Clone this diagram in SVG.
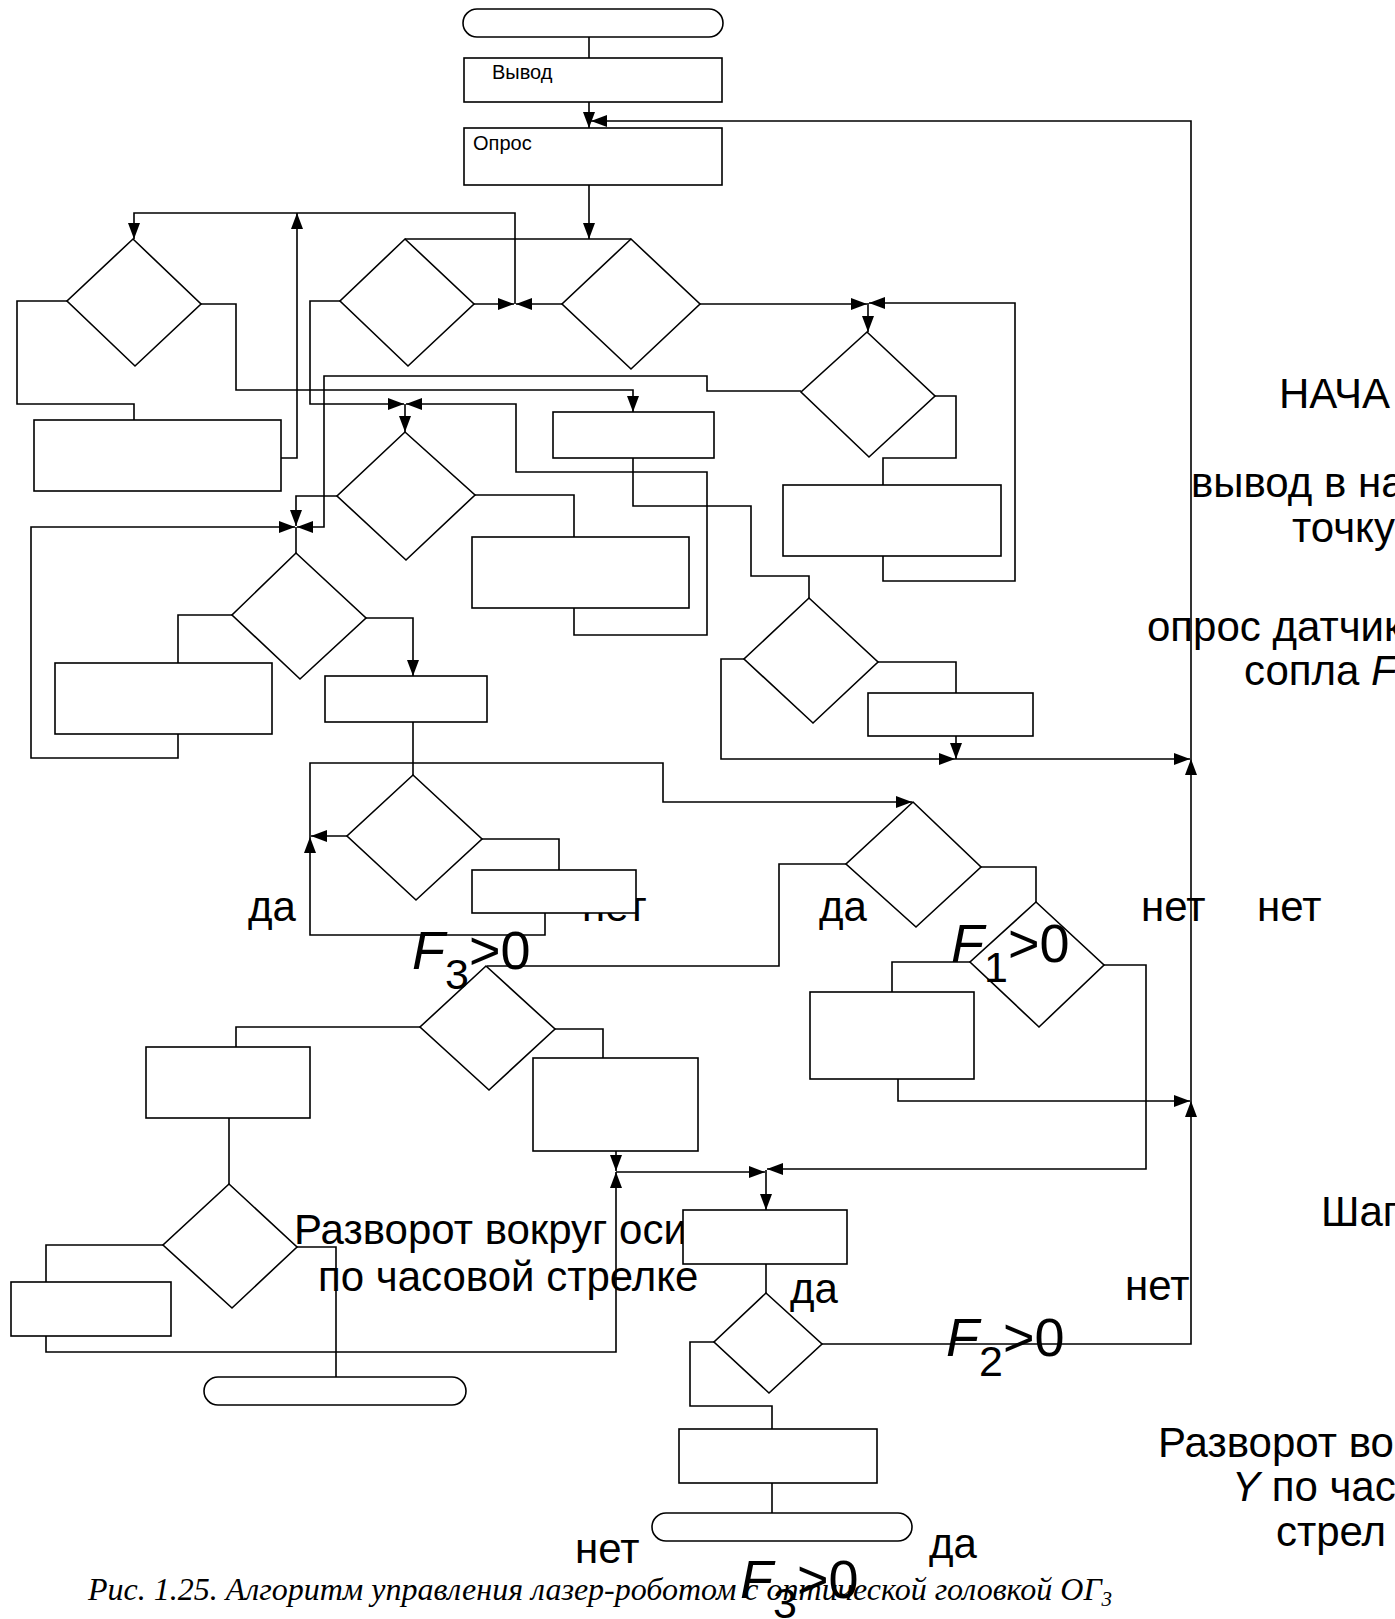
<svg xmlns="http://www.w3.org/2000/svg" width="1395" height="1619" viewBox="0 0 1395 1619">
<style>
.n{fill:#fff;stroke:#000;stroke-width:1.6}
.c{fill:none;stroke:#000;stroke-width:1.6}
.a{marker-end:url(#ah)}
.s{font-family:"Liberation Sans",Arial,sans-serif;font-size:20px;fill:#000}
.l{font-family:"Liberation Sans",Arial,sans-serif;font-size:42px;fill:#000}
.f{font-family:"Liberation Sans",Arial,sans-serif;font-size:54px;fill:#000}
.cap{font-family:"Liberation Serif","Times New Roman",serif;font-style:italic;font-size:32px;fill:#000}
</style>
<defs>
<marker id="ah" markerWidth="16" markerHeight="12" refX="16" refY="6" orient="auto" markerUnits="userSpaceOnUse">
<path d="M0,0 L16,6 L0,12 z" fill="#000"/>
</marker>
</defs>
<rect width="1395" height="1619" fill="#fff"/>

<g id="labels">
<text class="l" x="248" y="921">да</text>
<text class="l" x="582" y="921">нет</text>
<text class="l" x="819" y="921">да</text>
<text class="l" x="1141" y="921">нет</text>
<text class="l" x="1257" y="921">нет</text>
<text class="l" x="790" y="1303">да</text>
<text class="l" x="1125" y="1300">нет</text>
<text class="l" x="575" y="1563">нет</text>
<text class="l" x="929" y="1558">да</text>
<text class="l" x="294" y="1244" font-size="41">Разворот вокруг оси</text>
<text class="l" x="318" y="1291">по часовой стрелке</text>
<text class="l" x="1279" y="408">НАЧА</text>
<text class="l" x="1191" y="497">вывод в на</text>
<text class="l" x="1292" y="542">точку</text>
<text class="l" x="1147" y="641">опрос датчик</text>
<text class="l" x="1244" y="685">сопла <tspan font-style="italic">F</tspan></text>
<text class="l" x="1321" y="1226">Шаг</text>
<text class="l" x="1158" y="1457">Разворот во</text>
<text class="l" x="1232" y="1501"><tspan font-style="italic">Y</tspan> по час</text>
<text class="l" x="1276" y="1546">стрел</text>
<text class="cap" x="88" y="1600">Рис. 1.25. Алгоритм управления лазер-роботом с оптической головкой ОГ<tspan font-size="21" dy="6">3</tspan></text>
</g>

<g id="connectors">
<path class="c" d="M589,37 V58"/>
<path class="c a" d="M589,102 V128"/>
<path class="c a" d="M822,1344 H1191 V1101"/>
<path class="c a" d="M1191,1101 V759"/>
<path class="c a" d="M1191,759 V121 H591"/>
<path class="c a" d="M589,185 V239"/>
<path class="c" d="M405,239 H631"/>
<path class="c a" d="M474,304 H514"/>
<path class="c a" d="M562,304 H516"/>
<path class="c a" d="M515,304 V213 H134 V239"/>
<path class="c" d="M67,301 H17 V404 H134 V420"/>
<path class="c a" d="M281,458 H297 V213"/>
<path class="c a" d="M201,304 H236 V390 H633 V412"/>
<path class="c a" d="M340,301 H310 V404 H404"/>
<path class="c a" d="M574,608 V635 H707 V472 H516 V404 H406"/>
<path class="c a" d="M405,404 V432"/>
<path class="c" d="M475,495 H574 V537"/>
<path class="c a" d="M337,496 H296 V526"/>
<path class="c a" d="M801,391 H707 V376 H324 V527 H297"/>
<path class="c a" d="M178,734 V758 H31 V527 H295"/>
<path class="c" d="M296,527 V553"/>
<path class="c a" d="M700,304 H867"/>
<path class="c a" d="M883,556 V581 H1015 V303 H869"/>
<path class="c a" d="M868,303 V332"/>
<path class="c" d="M935,396 H956 V458 H883 V485"/>
<path class="c" d="M633,458 V506 H751 V576 H809 V598"/>
<path class="c" d="M878,662 H956 V693"/>
<path class="c a" d="M956,736 V759"/>
<path class="c a" d="M744,659 H721 V759 H955"/>
<path class="c a" d="M955,759 H1190"/>
<path class="c" d="M232,615 H178 V663"/>
<path class="c a" d="M366,618 H413 V676"/>
<path class="c" d="M413,722 V775"/>
<path class="c a" d="M347,836 H311"/>
<path class="c" d="M482,839 H559 V870"/>
<path class="c a" d="M545,913 V935 H310 V837"/>
<path class="c a" d="M310,837 V763 H663 V802 H912"/>
<path class="c" d="M846,864 H779 V966 H487"/>
<path class="c" d="M981,867 H1036 V902"/>
<path class="c" d="M970,962 H892 V992"/>
<path class="c a" d="M898,1079 V1101 H1190"/>
<path class="c a" d="M1104,965 H1146 V1169 H767"/>
<path class="c" d="M554,1029 H603 V1058"/>
<path class="c a" d="M616,1151 V1171"/>
<path class="c a" d="M46,1336 V1352 H616 V1172"/>
<path class="c a" d="M616,1172 H765"/>
<path class="c a" d="M766,1170 V1210"/>
<path class="c" d="M420,1027 H236 V1047"/>
<path class="c" d="M229,1118 V1184"/>
<path class="c" d="M163,1245 H46 V1282"/>
<path class="c" d="M297,1247 H336 V1377"/>
<path class="c" d="M766,1264 V1293"/>
<path class="c" d="M714,1342 H690 V1406 H772 V1429"/>
<path class="c" d="M772,1483 V1513"/>
</g>

<g id="t1"><rect class="n" x="463" y="9" width="260" height="28" rx="14"/></g>
<g id="vyvod"><rect class="n" x="464" y="58" width="258" height="44"/><text class="s" x="492" y="79">Вывод</text></g>
<g id="opros"><rect class="n" x="464" y="128" width="258" height="57"/><text class="s" x="473" y="150">Опрос</text></g>
<g id="d1"><polygon class="n" points="133,239 201,304 135,366 67,301"/></g>
<g id="d2"><polygon class="n" points="405,239 474,304 408,366 340,301"/></g>
<g id="d3"><polygon class="n" points="631,239 700,304 631,369 562,304"/></g>
<g id="b1"><rect class="n" x="34" y="420" width="247" height="71"/></g>
<g id="b2"><rect class="n" x="553" y="412" width="161" height="46"/></g>
<g id="d4"><polygon class="n" points="867,332 935,396 869,457 801,392"/></g>
<g id="d5"><polygon class="n" points="405,432 475,495 406,560 337,496"/></g>
<g id="b3"><rect class="n" x="472" y="537" width="217" height="71"/></g>
<g id="b13"><rect class="n" x="783" y="485" width="218" height="71"/></g>
<g id="d6"><polygon class="n" points="296,553 366,618 300,679 232,615"/></g>
<g id="b4"><rect class="n" x="55" y="663" width="217" height="71"/></g>
<g id="b5"><rect class="n" x="325" y="676" width="162" height="46"/></g>
<g id="d7"><polygon class="n" points="809,598 878,662 813,723 744,659"/></g>
<g id="b14"><rect class="n" x="868" y="693" width="165" height="43"/></g>
<g id="d8"><polygon class="n" points="413,775 482,839 416,900 347,836"/></g>
<g id="b6"><rect class="n" x="472" y="870" width="164" height="43"/></g>
<g id="d10"><polygon class="n" points="913,802 981,867 916,927 846,864"/></g>
<g id="d11"><polygon class="n" points="1036,902 1104,965 1039,1027 970,962"/></g>
<g id="b7"><rect class="n" x="810" y="992" width="164" height="87"/></g>
<g id="d9"><polygon class="n" points="486,966 555,1029 489,1090 420,1027"/></g>
<g id="b10"><rect class="n" x="146" y="1047" width="164" height="71"/></g>
<g id="b9"><rect class="n" x="533" y="1058" width="165" height="93"/></g>
<g id="d12"><polygon class="n" points="229,1184 297,1247 232,1308 163,1245"/></g>
<g id="b11"><rect class="n" x="11" y="1282" width="160" height="54"/></g>
<g id="t2"><rect class="n" x="204" y="1377" width="262" height="28" rx="14"/></g>
<g id="b8"><rect class="n" x="683" y="1210" width="164" height="54"/></g>
<g id="d13"><polygon class="n" points="766,1293 822,1344 769,1393 714,1342"/></g>
<g id="b12"><rect class="n" x="679" y="1429" width="198" height="54"/></g>
<g id="t3"><rect class="n" x="652" y="1513" width="260" height="28" rx="14"/></g>

<g id="conditions">
<text class="f" x="412" y="969"><tspan font-style="italic">F</tspan><tspan font-size="43" dy="20">3</tspan><tspan dy="-20">&gt;0</tspan></text>
<text class="f" x="951" y="962"><tspan font-style="italic">F</tspan><tspan font-size="43" dy="20">1</tspan><tspan dy="-20">&gt;0</tspan></text>
<text class="f" x="946" y="1356"><tspan font-style="italic">F</tspan><tspan font-size="43" dy="20">2</tspan><tspan dy="-20">&gt;0</tspan></text>
<text class="f" x="740" y="1598"><tspan font-style="italic">F</tspan><tspan font-size="43" dy="20">3</tspan><tspan dy="-20">&gt;0</tspan></text>
</g>
</svg>
